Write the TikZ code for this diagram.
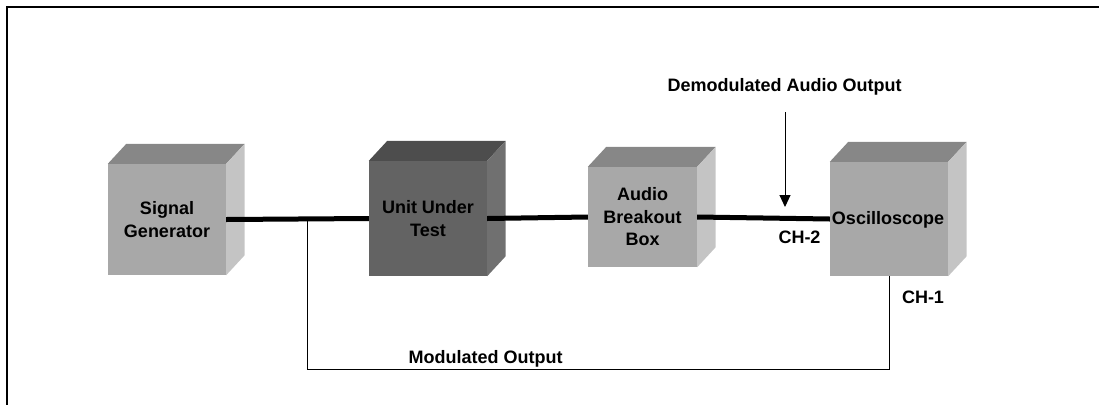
\documentclass[tikz,border=0pt]{standalone}
\usepackage{fontspec}
\setmainfont{Liberation Sans}
\usepackage{tikz}
\usetikzlibrary{arrows.meta,calc}

% face colours of the boxes
\definecolor{lightfront}{HTML}{A8A8A8}
\definecolor{lighttop}{HTML}{878787}
\definecolor{lightside}{HTML}{C4C4C4}
\definecolor{darkfront}{HTML}{636363}
\definecolor{darktop}{HTML}{4D4D4D}
\definecolor{darkside}{HTML}{707070}

% a box drawn as a block: front face is the node, top and side added behind it
\newcommand{\blockfaces}[3]{%
  \fill[#2] (#1.north west) -- ++(18.5,-20) -- ++($(#1.north east)-(#1.north west)$) -- (#1.north east) -- cycle;
  \fill[#3] (#1.north east) -- ++(18.5,-20) -- ++($(#1.south east)-(#1.north east)$) -- (#1.south east) -- cycle;
}

\begin{document}
\begin{tikzpicture}[x=1pt,y=-1pt,
  block/.style={inner sep=0pt, align=center, font=\fontsize{18}{22.5}\selectfont\bfseries},
  lbl/.style={font=\fontsize{18}{21}\selectfont\bfseries},
  bus/.style={line width=5pt},
  wire/.style={line width=1pt}]
  \useasboundingbox (0,0) rectangle (1099,405);

  % frame
  \draw[line width=2pt] (1099,6.5) -- (6.5,6.5) -- (6.5,405);

  \node[block, fill=lightfront, minimum width=118pt, minimum height=111pt] (sg) at (167,219.5) {Signal\\Generator};
  \blockfaces{sg}{lighttop}{lightside}
  \node[block, fill=darkfront, minimum width=118pt, minimum height=115pt] (uut) at (428,218.5) {Unit Under\\Test};
  \blockfaces{uut}{darktop}{darkside}
  \node[block, fill=lightfront, minimum width=109pt, minimum height=100pt] (abb) at (642.5,217) {Audio\\Breakout\\Box};
  \blockfaces{abb}{lighttop}{lightside}
  \node[block, fill=lightfront, minimum width=118pt, minimum height=114pt] (osc) at (889,219) {};
  \blockfaces{osc}{lighttop}{lightside}

  % signal path
  \draw[bus] (sg.east) -- (uut.west);
  \draw[bus] (uut.east) -- (abb.west);
  \draw[bus] (abb.east) -- (osc.west);
  \node[block] (osctext) at (888,220) {Oscilloscope};

  % modulated output back to CH-1
  \coordinate (tap) at (307,219);
  \draw[wire] (tap) -- ++(0,150) -| (osc.south);

  % demodulated audio on CH-2
  \coordinate (demtop) at (785,112);
  \coordinate (demend) at (785,207);
  \draw[wire, -{Triangle[width=11pt,length=12pt]}] (demtop) -- (demend);

  \node[lbl] (dem) at (784.5,87) {Demodulated Audio Output};
  \node[lbl] (ch2) at (799.5,237) {CH-2};
  \node[lbl] (ch1) at (923,297) {CH-1};
  \node[lbl] (mod) at (485.5,359) {Modulated Output};
\end{tikzpicture}
\end{document}
